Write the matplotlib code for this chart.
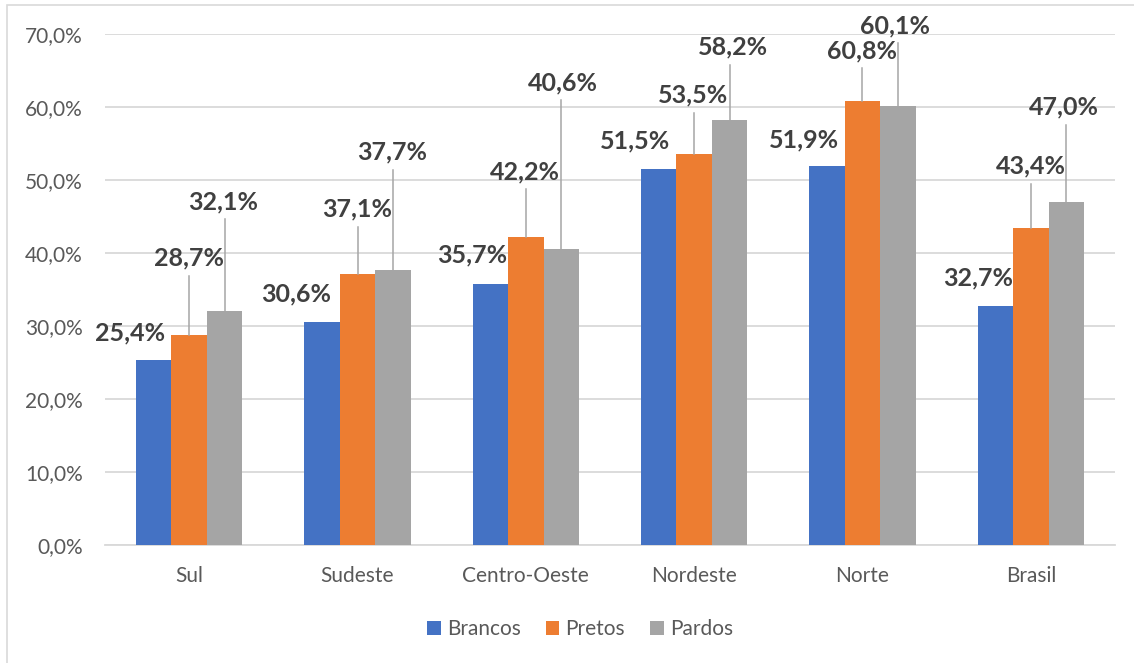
import matplotlib
matplotlib.use("Agg")
import matplotlib.pyplot as plt
from matplotlib.patches import Rectangle
from matplotlib.ticker import FuncFormatter, MultipleLocator
import numpy as np

categories = ["Sul", "Sudeste", "Centro-Oeste", "Nordeste", "Norte", "Brasil"]
brancos = [25.4, 30.6, 35.7, 51.5, 51.9, 32.7]
pretos = [28.7, 37.1, 42.2, 53.5, 60.8, 43.4]
pardos = [32.1, 37.7, 40.6, 58.2, 60.1, 47.0]
series_names = ["Brancos", "Pretos", "Pardos"]
colors = ["#4472C4", "#ED7D31", "#A5A5A5"]

# label placement (x offset from category centre, y in data units)
lab_dx = [
    [-0.351, -0.363, -0.321, -0.351, -0.345, -0.315],
    [0.0, 0.0, -0.006, -0.006, 0.0, 0.0],
    [0.202, 0.208, 0.220, 0.232, 0.196, 0.196],
]
lab_y = [
    [29.0, 34.4, 39.7, 55.3, 55.5, 36.6],
    [39.3, 46.0, 51.1, 61.6, 67.7, 51.9],
    [47.0, 53.8, 63.3, 68.2, 71.1, 60.0],
]

plt.rcParams['font.family'] = ['Lato', 'DejaVu Sans']

W, H = 1134, 663
fig = plt.figure(figsize=(W / 100, H / 100), dpi=100)
ax = fig.add_axes([105 / W, 118 / H, 1010 / W, 511 / H])

# outer chart border
fig.patches.append(Rectangle((7 / W, -0.05), 1.1, (H - 5) / H + 0.05,
                             transform=fig.transFigure, fill=False,
                             edgecolor="#D9D9D9", linewidth=1.2))

series = [brancos, pretos, pardos]
x = np.arange(len(categories))
width = 0.21
offsets = [-width, 0.0, width]
for s, vals in enumerate(series):
    ax.bar(x + offsets[s], vals, width, color=colors[s], label=series_names[s],
           zorder=3)

ax.set_xlim(-0.5, len(categories) - 0.5)
ax.set_ylim(0, 70)
ax.yaxis.set_major_locator(MultipleLocator(10))
ax.yaxis.set_major_formatter(FuncFormatter(lambda v, p: f"{v:.1f}%".replace(".", ",")))
ax.grid(axis="y", color="#D9D9D9", linewidth=1.3, zorder=0)
for sp in ["top", "right", "left"]:
    ax.spines[sp].set_visible(False)
ax.spines["bottom"].set_color("#D9D9D9")
ax.spines["bottom"].set_linewidth(1.3)
ax.tick_params(axis="both", length=0, labelcolor="#595959", labelsize=15)
ax.tick_params(axis="x", pad=15)
ax.tick_params(axis="y", pad=16)
ax.set_xticks(x)
ax.set_xticklabels(categories)

texts = []
for s, vals in enumerate(series):
    for i, v in enumerate(vals):
        t = ax.text(i + lab_dx[s][i], lab_y[s][i], f"{v:.1f}%".replace(".", ","),
                    ha="center", va="center", fontsize=18, fontweight="bold",
                    color="#404040", zorder=5, clip_on=False)
        texts.append((s, i, v, t))

fig.canvas.draw()
renderer = fig.canvas.get_renderer()
inv = ax.transData.inverted()
for s, i, v, t in texts:
    if s == 0:
        continue
    bb = t.get_window_extent(renderer)
    bottom = inv.transform((bb.x0, bb.y0 - 6))[1]
    bx = i + offsets[s]
    ax.plot([bx, bx], [v, bottom], color="#A6A6A6", linewidth=1.1, zorder=4,
            clip_on=False)

leg = fig.legend(loc="center", bbox_to_anchor=(580 / W, 1 - 629 / H), ncol=3,
                 frameon=False, fontsize=15, handlelength=0.65, handleheight=0.65,
                 handletextpad=0.3, columnspacing=1.2)
for txt in leg.get_texts():
    txt.set_color("#595959")

fig.savefig("out.png", dpi=100)
